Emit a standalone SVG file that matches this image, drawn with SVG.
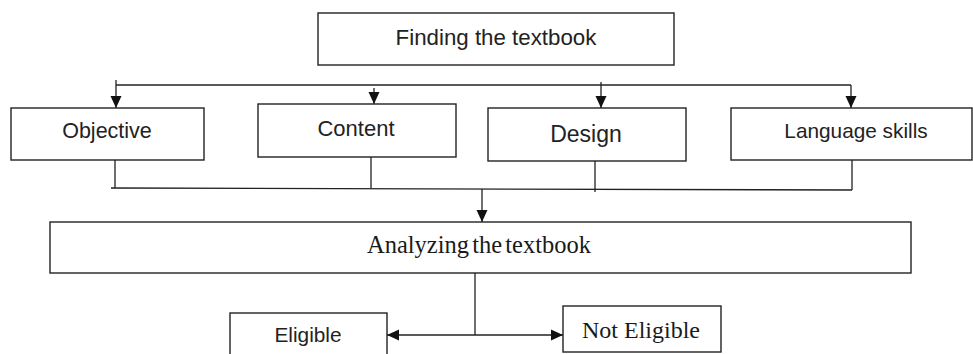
<svg xmlns="http://www.w3.org/2000/svg" width="973" height="354" viewBox="0 0 973 354">
<style>
.box{fill:#fff;stroke:#222;stroke-width:1.4}
.ln{fill:none;stroke:#222;stroke-width:1.3}
.arr{fill:none;stroke:#222;stroke-width:1.3;marker-end:url(#ah)}
.sans{font-family:"Liberation Sans",Arial,sans-serif;fill:#222;text-anchor:middle}
.serif{font-family:"Liberation Serif","Times New Roman",serif;fill:#1a1a1a;text-anchor:middle}
</style>
<defs>
<marker id="ah" markerUnits="userSpaceOnUse" markerWidth="12" markerHeight="12" viewBox="0 0 12 12" refX="12" refY="6" orient="auto">
<path d="M0,0.5 L12,6 L0,11.5 Z" fill="#111"/>
</marker>
</defs>
<rect width="973" height="354" fill="#fff"/>
<g id="connectors">
<path class="ln" d="M116,85 H851"/>
<path class="arr" d="M116,80 V108"/>
<path class="arr" d="M374,88 V104"/>
<path class="arr" d="M601,82 V108"/>
<path class="arr" d="M851,85 V108"/>
<path class="ln" d="M115,160 V188"/>
<path class="ln" d="M371,157 V188.5"/>
<path class="ln" d="M595,161 V192"/>
<path class="ln" d="M852,160 V190"/>
<path class="ln" d="M111,188 L852,190"/>
<path class="arr" d="M482,189 V222"/>
<path class="ln" d="M475,273 V335"/>
<path class="arr" d="M475,335 H387"/>
<path class="arr" d="M475,335 H563"/>
</g>
<g id="finding">
<rect class="box" x="318" y="13" width="356" height="52"/>
<text class="sans" x="496" y="45" font-size="22.3">Finding the textbook</text>
</g>
<g id="objective">
<rect class="box" x="11" y="108" width="193" height="52"/>
<text class="sans" x="107" y="138" font-size="21.5">Objective</text>
</g>
<g id="content">
<rect class="box" x="258" y="104" width="198" height="53"/>
<text class="sans" x="356" y="136" font-size="22">Content</text>
</g>
<g id="design">
<rect class="box" x="488" y="108" width="198" height="53"/>
<text class="sans" x="586" y="142" font-size="23">Design</text>
</g>
<g id="language">
<rect class="box" x="731" y="108" width="241" height="52"/>
<text class="sans" x="856" y="138" font-size="20.8">Language skills</text>
</g>
<g id="analyzing">
<rect class="box" x="50" y="222" width="861" height="51"/>
<text class="serif" x="479" y="253" font-size="24.5" word-spacing="-3">Analyzing the textbook</text>
</g>
<g id="eligible">
<rect class="box" x="230" y="313" width="157" height="50"/>
<text class="sans" x="308" y="342" font-size="20.8">Eligible</text>
</g>
<g id="not-eligible">
<rect class="box" x="563" y="306" width="158" height="46"/>
<text class="serif" x="641" y="338" font-size="24">Not Eligible</text>
</g>
</svg>
